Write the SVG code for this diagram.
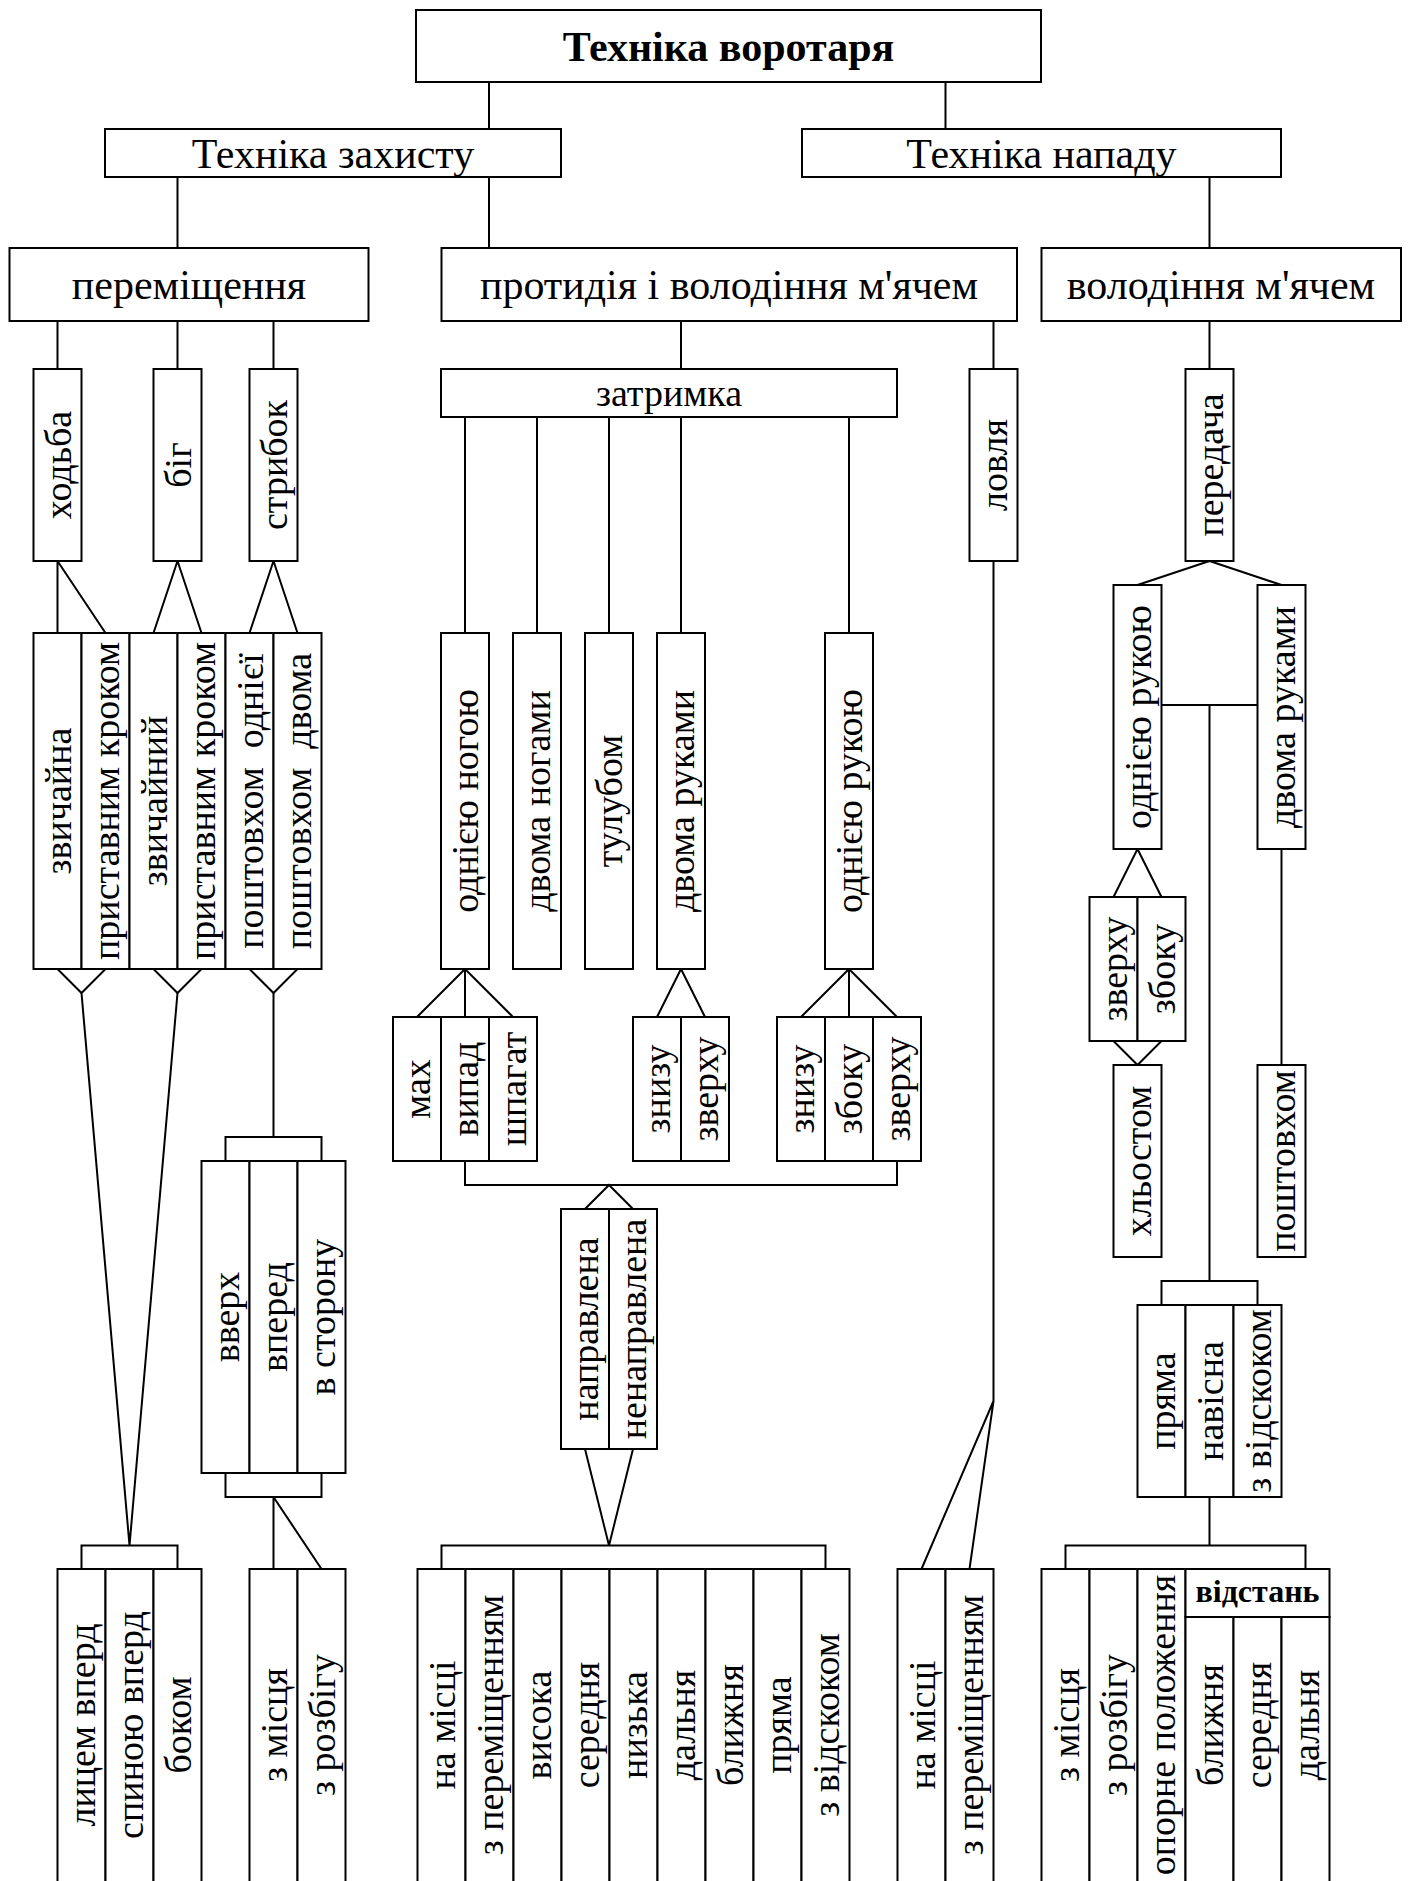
<svg xmlns="http://www.w3.org/2000/svg" width="1408" height="1881" viewBox="0 0 1408 1881">
<style>
  .b{fill:#fff;stroke:#000;stroke-width:2}
  .c{fill:none;stroke:#000;stroke-width:2}
  text{font-family:"Liberation Serif","Times New Roman",serif;fill:#000}
  .h{font-size:42px;text-anchor:middle}
  .hb{font-size:42px;font-weight:bold;text-anchor:middle}
  .m{font-size:38px;text-anchor:middle}
  .v{font-size:38px;text-anchor:middle}
  .vb{font-size:32px;font-weight:bold;text-anchor:middle}
</style>
<rect width="1408" height="1881" fill="#fff"/>

<!-- connectors -->
<g id="connectors" class="c">
  <path d="M489,82V129M945.5,82V129"/>
  <path d="M177.5,177V248M489,177V248M1209.5,177V248"/>
  <path d="M57.5,321V369M177.5,321V369M273.5,321V369"/>
  <path d="M681,321V369M993.5,321V369M1209.5,321V369"/>
  <path d="M57.5,561V633M57.5,561L105.5,633M177.5,561L153.5,633M177.5,561L201.5,633M273.5,561L249.5,633M273.5,561L297.5,633"/>
  <path d="M57.5,969L81.5,993L105.5,969M153.5,969L177.5,993L201.5,969M249.5,969L273.5,993L297.5,969"/>
  <path d="M81.5,993L129.5,1545.5L177.5,993"/>
  <path d="M273.5,993V1137M225.5,1161V1137H321.5V1161"/>
  <path d="M225.5,1473V1497H321.5V1473M273.5,1497V1569M273.5,1497L321.5,1569"/>
  <path d="M81.5,1569V1545.5H177.5V1569"/>
  <path d="M465,417V633M537,417V633M609,417V633M681,417V633M849,417V633"/>
  <path d="M465,969L417,1017M465,969V1017M465,969L513,1017"/>
  <path d="M681,969L657,1017M681,969L705,1017"/>
  <path d="M849,969L801,1017M849,969V1017M849,969L897,1017"/>
  <path d="M465,1161V1185H897V1161M585,1209L609,1185L633,1209"/>
  <path d="M585,1449L609,1545.5L633,1449"/>
  <path d="M441.5,1569V1545.5H825.5V1569"/>
  <path d="M993.5,561V1401L921.5,1569M993.5,1401L969.5,1569"/>
  <path d="M1209.5,561L1137.5,585M1209.5,561L1281.5,585"/>
  <path d="M1161.5,705H1257.5M1209.5,705V1281"/>
  <path d="M1137.5,849L1113.5,897M1137.5,849L1161.5,897"/>
  <path d="M1113.5,1041L1137.5,1065L1161.5,1041"/>
  <path d="M1281.5,849V1065"/>
  <path d="M1161.5,1305V1281H1257.5V1305"/>
  <path d="M1209.5,1497V1545.5M1065.5,1569V1545.5H1305.5V1569"/>
</g>

<!-- horizontal nodes -->
<g id="n-tekhnika-vorotaria"><rect class="b" x="416" y="10" width="625" height="72"/><text class="hb" x="728.5" y="61">Техніка воротаря</text></g>
<g id="n-tekhnika-zakhystu"><rect class="b" x="105" y="129" width="456" height="48"/><text class="h" x="333" y="168">Техніка захисту</text></g>
<g id="n-tekhnika-napadu"><rect class="b" x="802" y="129" width="479" height="48"/><text class="h" x="1041.5" y="168">Техніка нападу</text></g>
<g id="n-peremishchennia"><rect class="b" x="9.5" y="248" width="359" height="73"/><text class="h" x="189" y="299">переміщення</text></g>
<g id="n-protydiia"><rect class="b" x="441.5" y="248" width="575.5" height="73"/><text class="h" x="729" y="299">протидія і володіння м'ячем</text></g>
<g id="n-volodinnia"><rect class="b" x="1041.5" y="248" width="359.5" height="73"/><text class="h" x="1221" y="299">володіння м'ячем</text></g>
<g id="n-zatrymka"><rect class="b" x="441" y="369" width="456" height="48"/><text class="m" x="669" y="406">затримка</text></g>

<!-- vertical nodes, level 3 -->
<g id="n-khodba"><rect class="b" x="33.5" y="369" width="48" height="192"/><text class="v" transform="translate(70.5,465) rotate(-90)">ходьба</text></g>
<g id="n-bih"><rect class="b" x="153.5" y="369" width="48" height="192"/><text class="v" transform="translate(190.5,465) rotate(-90)">біг</text></g>
<g id="n-strybok"><rect class="b" x="249.5" y="369" width="48" height="192"/><text class="v" transform="translate(286.5,465) rotate(-90)">стрибок</text></g>
<g id="n-lovlia"><rect class="b" x="969.5" y="369" width="48" height="192"/><text class="v" transform="translate(1006.5,465) rotate(-90)">ловля</text></g>
<g id="n-peredacha"><rect class="b" x="1185.5" y="369" width="48" height="192"/><text class="v" transform="translate(1222.5,465) rotate(-90)">передача</text></g>

<!-- movement kinds -->
<g id="n-zvychaina"><rect class="b" x="33.5" y="633" width="48" height="336"/><text class="v" transform="translate(70.5,801) rotate(-90)">звичайна</text></g>
<g id="n-prystavnym-1"><rect class="b" x="81.5" y="633" width="48" height="336"/><text class="v" transform="translate(118.5,801) rotate(-90)">приставним кроком</text></g>
<g id="n-zvychainyi"><rect class="b" x="129.5" y="633" width="48" height="336"/><text class="v" transform="translate(166.5,801) rotate(-90)">звичайний</text></g>
<g id="n-prystavnym-2"><rect class="b" x="177.5" y="633" width="48" height="336"/><text class="v" transform="translate(214.5,801) rotate(-90)">приставним кроком</text></g>
<g id="n-poshtovkhom-odniiei"><rect class="b" x="225.5" y="633" width="48" height="336"/><text class="v" xml:space="preserve" transform="translate(262.5,801) rotate(-90)">поштовхом  однієї</text></g>
<g id="n-poshtovkhom-dvoma"><rect class="b" x="273.5" y="633" width="48" height="336"/><text class="v" xml:space="preserve" transform="translate(310.5,801) rotate(-90)">поштовхом  двома</text></g>

<!-- hold kinds -->
<g id="n-odniieiu-nohoiu"><rect class="b" x="441" y="633" width="48" height="336"/><text class="v" transform="translate(478,801) rotate(-90)">однією ногою</text></g>
<g id="n-dvoma-nohamy"><rect class="b" x="513" y="633" width="48" height="336"/><text class="v" transform="translate(550,801) rotate(-90)">двома ногами</text></g>
<g id="n-tulubom"><rect class="b" x="585" y="633" width="48" height="336"/><text class="v" transform="translate(622,801) rotate(-90)">тулубом</text></g>
<g id="n-dvoma-rukamy"><rect class="b" x="657" y="633" width="48" height="336"/><text class="v" transform="translate(694,801) rotate(-90)">двома руками</text></g>
<g id="n-odniieiu-rukoiu"><rect class="b" x="825" y="633" width="48" height="336"/><text class="v" transform="translate(862,801) rotate(-90)">однією рукою</text></g>

<g id="n-makh"><rect class="b" x="393" y="1017" width="48" height="144"/><text class="v" transform="translate(430,1089) rotate(-90)">мах</text></g>
<g id="n-vypad"><rect class="b" x="441" y="1017" width="48" height="144"/><text class="v" transform="translate(478,1089) rotate(-90)">випад</text></g>
<g id="n-shpahat"><rect class="b" x="489" y="1017" width="48" height="144"/><text class="v" transform="translate(526,1089) rotate(-90)">шпагат</text></g>
<g id="n-znyzu-1"><rect class="b" x="633" y="1017" width="48" height="144"/><text class="v" transform="translate(670,1089) rotate(-90)">знизу</text></g>
<g id="n-zverkhu-1"><rect class="b" x="681" y="1017" width="48" height="144"/><text class="v" transform="translate(718,1089) rotate(-90)">зверху</text></g>
<g id="n-znyzu-2"><rect class="b" x="777" y="1017" width="48" height="144"/><text class="v" transform="translate(814,1089) rotate(-90)">знизу</text></g>
<g id="n-zboku-2"><rect class="b" x="825" y="1017" width="48" height="144"/><text class="v" transform="translate(862,1089) rotate(-90)">збоку</text></g>
<g id="n-zverkhu-2"><rect class="b" x="873" y="1017" width="48" height="144"/><text class="v" transform="translate(910,1089) rotate(-90)">зверху</text></g>

<g id="n-napravlena"><rect class="b" x="561" y="1209" width="48" height="240"/><text class="v" transform="translate(598,1329) rotate(-90)">направлена</text></g>
<g id="n-nenapravlena"><rect class="b" x="609" y="1209" width="48" height="240"/><text class="v" transform="translate(646,1329) rotate(-90)">ненаправлена</text></g>

<!-- jump directions -->
<g id="n-vverkh"><rect class="b" x="201.5" y="1161" width="48" height="312"/><text class="v" transform="translate(238.5,1317) rotate(-90)">вверх</text></g>
<g id="n-vpered"><rect class="b" x="249.5" y="1161" width="48" height="312"/><text class="v" transform="translate(286.5,1317) rotate(-90)">вперед</text></g>
<g id="n-v-storonu"><rect class="b" x="297.5" y="1161" width="48" height="312"/><text class="v" transform="translate(334.5,1317) rotate(-90)">в сторону</text></g>

<!-- pass branch -->
<g id="n-peredacha-odniieiu"><rect class="b" x="1113.5" y="585" width="48" height="264"/><text class="v" transform="translate(1150.5,717) rotate(-90)">однією рукою</text></g>
<g id="n-peredacha-dvoma"><rect class="b" x="1257.5" y="585" width="48" height="264"/><text class="v" transform="translate(1294.5,717) rotate(-90)">двома руками</text></g>
<g id="n-zverkhu-3"><rect class="b" x="1089.5" y="897" width="48" height="144"/><text class="v" transform="translate(1126.5,969) rotate(-90)">зверху</text></g>
<g id="n-zboku-3"><rect class="b" x="1137.5" y="897" width="48" height="144"/><text class="v" transform="translate(1174.5,969) rotate(-90)">збоку</text></g>
<g id="n-khlostom"><rect class="b" x="1113.5" y="1065" width="48" height="192"/><text class="v" transform="translate(1150.5,1161) rotate(-90)">хльостом</text></g>
<g id="n-poshtovkhom"><rect class="b" x="1257.5" y="1065" width="48" height="192"/><text class="v" transform="translate(1294.5,1161) rotate(-90)">поштовхом</text></g>
<g id="n-priama"><rect class="b" x="1137.5" y="1305" width="48" height="192"/><text class="v" transform="translate(1174.5,1401) rotate(-90)">пряма</text></g>
<g id="n-navisna"><rect class="b" x="1185.5" y="1305" width="48" height="192"/><text class="v" transform="translate(1222.5,1401) rotate(-90)">навісна</text></g>
<g id="n-z-vidskokom-3"><rect class="b" x="1233.5" y="1305" width="48" height="192"/><text class="v" transform="translate(1270.5,1401) rotate(-90)">з відскоком</text></g>

<!-- bottom row -->
<g id="n-lytsem"><rect class="b" x="57.5" y="1569" width="48" height="330"/><text class="v" transform="translate(94.5,1725) rotate(-90)">лицем вперд</text></g>
<g id="n-spynoiu"><rect class="b" x="105.5" y="1569" width="48" height="330"/><text class="v" transform="translate(142.5,1725) rotate(-90)">спиною вперд</text></g>
<g id="n-bokom"><rect class="b" x="153.5" y="1569" width="48" height="330"/><text class="v" transform="translate(190.5,1725) rotate(-90)">боком</text></g>
<g id="n-z-mistsia-1"><rect class="b" x="249.5" y="1569" width="48" height="330"/><text class="v" transform="translate(286.5,1725) rotate(-90)">з місця</text></g>
<g id="n-z-rozbihu-1"><rect class="b" x="297.5" y="1569" width="48" height="330"/><text class="v" transform="translate(334.5,1725) rotate(-90)">з розбігу</text></g>

<g id="n-na-mistsi-1"><rect class="b" x="417.5" y="1569" width="48" height="330"/><text class="v" transform="translate(454.5,1725) rotate(-90)">на місці</text></g>
<g id="n-z-peremishchenniam-1"><rect class="b" x="465.5" y="1569" width="48" height="330"/><text class="v" transform="translate(502.5,1725) rotate(-90)">з переміщенням</text></g>
<g id="n-vysoka"><rect class="b" x="513.5" y="1569" width="48" height="330"/><text class="v" transform="translate(550.5,1725) rotate(-90)">висока</text></g>
<g id="n-serednia-1"><rect class="b" x="561.5" y="1569" width="48" height="330"/><text class="v" transform="translate(598.5,1725) rotate(-90)">середня</text></g>
<g id="n-nyzka"><rect class="b" x="609.5" y="1569" width="48" height="330"/><text class="v" transform="translate(646.5,1725) rotate(-90)">низька</text></g>
<g id="n-dalnia-1"><rect class="b" x="657.5" y="1569" width="48" height="330"/><text class="v" transform="translate(694.5,1725) rotate(-90)">дальня</text></g>
<g id="n-blyzhnia-1"><rect class="b" x="705.5" y="1569" width="48" height="330"/><text class="v" transform="translate(742.5,1725) rotate(-90)">ближня</text></g>
<g id="n-priama-1"><rect class="b" x="753.5" y="1569" width="48" height="330"/><text class="v" transform="translate(790.5,1725) rotate(-90)">пряма</text></g>
<g id="n-z-vidskokom-1"><rect class="b" x="801.5" y="1569" width="48" height="330"/><text class="v" transform="translate(838.5,1725) rotate(-90)">з відскоком</text></g>

<g id="n-na-mistsi-2"><rect class="b" x="897.5" y="1569" width="48" height="330"/><text class="v" transform="translate(934.5,1725) rotate(-90)">на місці</text></g>
<g id="n-z-peremishchenniam-2"><rect class="b" x="945.5" y="1569" width="48" height="330"/><text class="v" transform="translate(982.5,1725) rotate(-90)">з переміщенням</text></g>

<g id="n-z-mistsia-2"><rect class="b" x="1041.5" y="1569" width="48" height="330"/><text class="v" transform="translate(1078.5,1725) rotate(-90)">з місця</text></g>
<g id="n-z-rozbihu-2"><rect class="b" x="1089.5" y="1569" width="48" height="330"/><text class="v" transform="translate(1126.5,1725) rotate(-90)">з розбігу</text></g>
<g id="n-oporne"><rect class="b" x="1137.5" y="1569" width="48" height="330"/><text class="v" transform="translate(1174.5,1725) rotate(-90)">опорне положення</text></g>
<g id="n-vidstan"><rect class="b" x="1185.5" y="1569" width="144" height="48"/><text class="vb" x="1257.5" y="1602">відстань</text></g>
<g id="n-blyzhnia-2"><rect class="b" x="1185.5" y="1617" width="48" height="282"/><text class="v" transform="translate(1222.5,1725) rotate(-90)">ближня</text></g>
<g id="n-serednia-2"><rect class="b" x="1233.5" y="1617" width="48" height="282"/><text class="v" transform="translate(1270.5,1725) rotate(-90)">середня</text></g>
<g id="n-dalnia-2"><rect class="b" x="1281.5" y="1617" width="48" height="282"/><text class="v" transform="translate(1318.5,1725) rotate(-90)">дальня</text></g>
</svg>
